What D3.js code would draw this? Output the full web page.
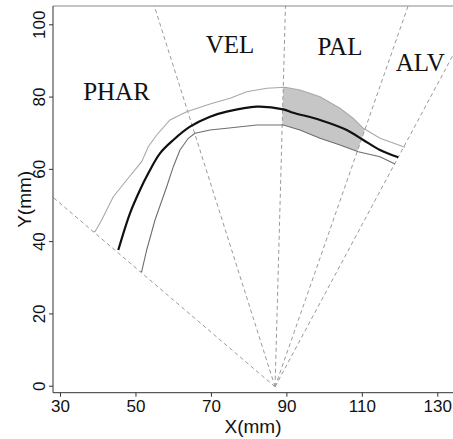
<!DOCTYPE html>
<html>
<head>
<meta charset="utf-8">
<script src="https://cdn.jsdelivr.net/npm/d3@7"></script>
<style>
  body { margin: 0; background: #fff; }
  svg { display: block; }
</style>
</head>
<body>
<script>
// tongue contour (mm): mean and the two bounds
const centerLine = [
  [45.45, 37.55], [48.55, 47.70], [51.20, 54.15], [53.40, 58.77], [56.50, 64.30],
  [60.03, 67.99], [64.46, 71.67], [69.76, 74.43], [74.18, 75.82], [82.13, 77.20],
  [89.18, 76.48], [91.83, 75.54], [98.91, 73.52], [105.99, 70.75], [110.39, 67.99],
  [114.81, 65.22], [119.66, 63.20]
];
const upperLine = [
  [38.90, 42.70], [39.28, 42.61], [41.05, 45.85], [44.13, 52.30], [47.68, 56.92],
  [51.65, 61.98], [53.40, 66.13], [55.63, 69.37], [59.15, 73.52], [63.58, 75.82],
  [69.76, 77.95], [75.06, 79.52], [79.48, 81.35], [84.78, 82.29], [89.63, 82.57],
  [93.61, 81.82], [98.91, 79.97], [104.21, 76.76], [107.74, 73.99], [110.39, 71.22],
  [114.81, 68.46], [121.44, 65.97]
];
const lowerLine = [
  [51.35, 31.60], [51.65, 31.54], [52.98, 37.55], [55.18, 45.85], [58.28, 55.06],
  [60.03, 60.60], [61.80, 65.22], [64.01, 68.46], [65.78, 69.84], [69.76, 70.75],
  [74.18, 71.22], [82.13, 72.14], [89.18, 72.14], [93.61, 70.75], [98.91, 68.46],
  [104.21, 66.60], [109.06, 64.75], [114.81, 63.36], [118.79, 61.34]
];

// polar grid: origin and boundary angles (degrees)
const gridOrigin = [87, -0.3];
const sectorAngles = [138.3, 106.9, 88.5, 71.5, 62.8];
const shadedSector = [3, 2]; // between PAL boundaries

const regionNames = ["PHAR", "VEL", "PAL", "ALV"];
const regionAnchors = [[44.97, 79.05], [75.06, 92.0], [104.21, 91.5], [125.5, 87.2]];

const xTicks = [30, 50, 70, 90, 110, 130];
const yTicks = [0, 20, 40, 60, 80, 100];

const width = 453, height = 439;
const frame = { left: 53, top: 6, right: 460, bottom: 392.7 };

const x = d3.scaleLinear().domain([30, 130]).range([60, 437.3]);
const y = d3.scaleLinear().domain([0, 100]).range([385.7, 24.3]);

const svg = d3.select("body").append("svg")
  .attr("width", width)
  .attr("height", height);

svg.append("clipPath").attr("id", "plotclip")
  .append("rect")
  .attr("x", frame.left).attr("y", frame.top)
  .attr("width", frame.right - frame.left)
  .attr("height", frame.bottom - frame.top);

const plot = svg.append("g").attr("clip-path", "url(#plotclip)");

function rayEnd(angle, r) {
  const a = angle * Math.PI / 180;
  return [gridOrigin[0] + r * Math.cos(a), gridOrigin[1] + r * Math.sin(a)];
}

const line = d3.line().x(d => x(d[0])).y(d => y(d[1]));
const smooth = d3.line().x(d => x(d[0])).y(d => y(d[1])).curve(d3.curveCatmullRom);

// shaded band inside the PAL sector
const sectorPoly = [gridOrigin, rayEnd(sectorAngles[shadedSector[0]], 300), rayEnd(sectorAngles[shadedSector[1]], 300)];
svg.append("clipPath").attr("id", "sectorclip")
  .append("path")
  .attr("d", line(sectorPoly) + "Z");

const band = upperLine.concat(lowerLine.slice().reverse());
plot.append("path")
  .attr("d", line(band) + "Z")
  .attr("clip-path", "url(#sectorclip)")
  .attr("fill", "#c6c6c6");

// dashed sector boundaries
sectorAngles.forEach(a => {
  const e = rayEnd(a, 200);
  plot.append("line")
    .attr("x1", x(gridOrigin[0])).attr("y1", y(gridOrigin[1]))
    .attr("x2", x(e[0])).attr("y2", y(e[1]))
    .attr("stroke", "#9a9a9a")
    .attr("stroke-width", 1)
    .attr("stroke-dasharray", "4,3");
});

// contours
plot.append("path").attr("d", line(upperLine))
  .attr("fill", "none").attr("stroke", "#a8a8a8").attr("stroke-width", 1.1);
plot.append("path").attr("d", line(lowerLine))
  .attr("fill", "none").attr("stroke", "#6e6e6e").attr("stroke-width", 1.1);
plot.append("path").attr("d", smooth(centerLine))
  .attr("fill", "none").attr("stroke", "#111").attr("stroke-width", 2.2)
  .attr("stroke-linejoin", "round");

// region labels
svg.selectAll("text.region")
  .data(regionNames)
  .join("text")
  .attr("class", "region")
  .attr("x", (d, i) => x(regionAnchors[i][0]))
  .attr("y", (d, i) => y(regionAnchors[i][1]))
  .attr("text-anchor", "middle")
  .attr("font-family", "'Liberation Serif', 'Times New Roman', serif")
  .attr("font-size", 25)
  .attr("fill", "#111")
  .text(d => d);

// frame: top line, left and bottom axes
svg.append("line")
  .attr("x1", frame.left).attr("x2", frame.right)
  .attr("y1", frame.top).attr("y2", frame.top)
  .attr("stroke", "#888").attr("stroke-width", 1);

const xAxis = svg.append("g")
  .attr("transform", `translate(0,${frame.bottom})`)
  .call(d3.axisBottom(x).tickValues(xTicks).tickSize(4).tickPadding(3).tickFormat(d3.format("d")));
xAxis.select(".domain").attr("d", `M${frame.left},0H${frame.right}`).attr("stroke", "#333");
xAxis.selectAll(".tick line").attr("stroke", "#333");
xAxis.selectAll(".tick text")
  .attr("font-family", "'Liberation Sans', Arial, sans-serif")
  .attr("font-size", 17).attr("fill", "#111");

const yAxis = svg.append("g")
  .attr("transform", `translate(${frame.left},0)`)
  .call(d3.axisLeft(y).tickValues(yTicks).tickSize(4).tickFormat(d3.format("d")));
yAxis.select(".domain").attr("d", `M0,${frame.top}V${frame.bottom}`).attr("stroke", "#333");
yAxis.selectAll(".tick line").attr("stroke", "#333");
yAxis.selectAll(".tick text")
  .attr("font-family", "'Liberation Sans', Arial, sans-serif")
  .attr("font-size", 17).attr("fill", "#111")
  .attr("x", null).attr("dy", null)
  .attr("text-anchor", "middle")
  .attr("transform", "translate(-8,0) rotate(-90)");

// axis titles
svg.append("text")
  .attr("x", (frame.left + width) / 2)
  .attr("y", 433)
  .attr("text-anchor", "middle")
  .attr("font-family", "'Liberation Sans', Arial, sans-serif")
  .attr("font-size", 19).attr("fill", "#111")
  .text("X(mm)");

svg.append("text")
  .attr("transform", `translate(31,${(frame.top + frame.bottom) / 2}) rotate(-90)`)
  .attr("text-anchor", "middle")
  .attr("font-family", "'Liberation Sans', Arial, sans-serif")
  .attr("font-size", 19).attr("fill", "#111")
  .text("Y(mm)");
</script>
</body>
</html>
